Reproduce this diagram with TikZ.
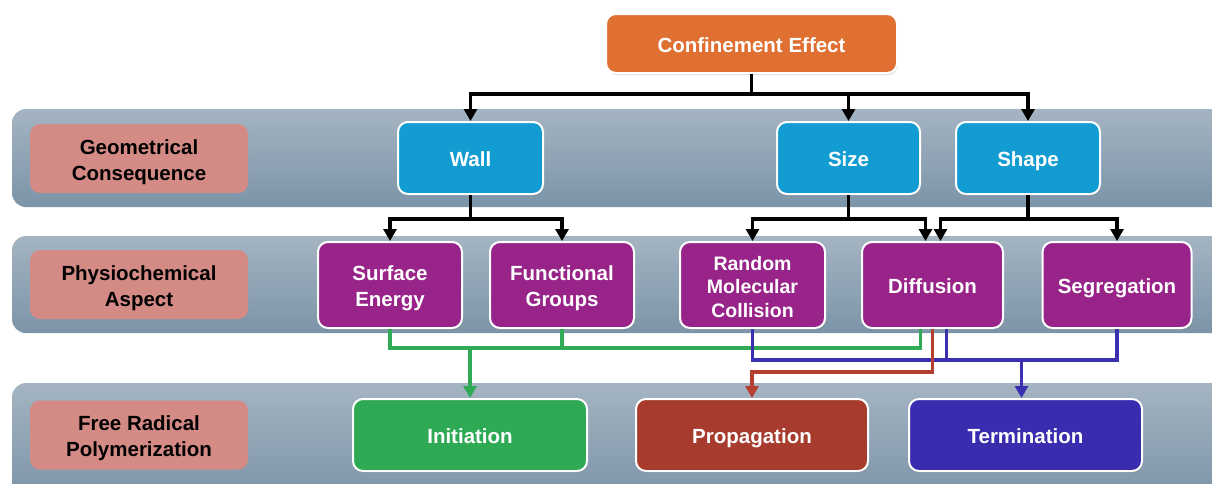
\documentclass[tikz,border=0pt]{standalone}
\usepackage{fontspec}
\setmainfont{Liberation Sans}
\usetikzlibrary{arrows.meta,shadows}
\definecolor{bandtop}{HTML}{A4B4C2}
\definecolor{bandbot}{HTML}{7C94A8}
\definecolor{cOrange}{HTML}{E06F32}
\definecolor{cBlue}{HTML}{129CD2}
\definecolor{cPurple}{HTML}{982489}
\definecolor{cGreen}{HTML}{2EAA55}
\definecolor{cRed}{HTML}{A73B2E}
\definecolor{cIndigo}{HTML}{3A2CAE}
\definecolor{cPink}{HTML}{D48A85}
\definecolor{lGreen}{HTML}{30AA55}
\definecolor{lRed}{HTML}{B33F2E}
\definecolor{lBlue}{HTML}{3A30B0}
\newcommand\bstrut{\rule[-5pt]{0pt}{27pt}}
\newcommand\ml{\rule[-5pt]{0pt}{27pt}}
\tikzset{
  band/.style={top color=bandtop, bottom color=bandbot, draw=none, rounded corners=14pt},
  boxtxt/.style={font=\fontsize{20.5}{26}\selectfont\bfseries, align=center,
    execute at begin node=\bstrut, execute at end node=\bstrut},
  labelbox/.style={boxtxt, fill=cPink, draw=none, rounded corners=10pt, text=black,
    minimum width=218pt, minimum height=69pt, inner sep=0pt},
  cbox/.style={boxtxt, draw=white, line width=2pt, rounded corners=10pt, text=white,
    inner sep=0pt, drop shadow={shadow xshift=1pt, shadow yshift=-2pt, opacity=0.25}},
  tip/.style={-{Triangle[length=12pt,width=13pt]}},
  blk/.style={draw=black, line width=3.5pt, tip},
  gline/.style={draw=lGreen, line width=3.5pt},
  rline/.style={draw=lRed, line width=3.5pt},
  bline/.style={draw=lBlue, line width=3.5pt},
}
\begin{document}
\begin{tikzpicture}[x=1pt,y=-1pt]
\useasboundingbox (0,0) rectangle (1212,483);
\clip (0,0) rectangle (1212,483);
% bands
\path[band] (12,109) rectangle (1240,207);
\path[band] (12,236) rectangle (1240,333);
\path[band] (12,383) rectangle (1240,500);
% label boxes
\node[labelbox] (l1) at (139,158.5) {\ml Geometrical\\Consequence};
\node[labelbox] (l2) at (139,284.5) {\ml Physiochemical\\Aspect};
\node[labelbox] (l3) at (139,435) {\ml Free Radical\\Polymerization};
% top
\node[cbox, fill=cOrange, minimum width=291pt, minimum height=59pt] (ce) at (751.5,43.5) {Confinement Effect};
% row 1
\node[cbox, fill=cBlue, minimum width=145pt, minimum height=72pt] (wall) at (470.5,158) {Wall};
\node[cbox, fill=cBlue, minimum width=143pt, minimum height=72pt] (size) at (848.5,158) {Size};
\node[cbox, fill=cBlue, minimum width=144pt, minimum height=72pt] (shape) at (1028,158) {Shape};
% row 2
\node[cbox, fill=cPurple, minimum width=144pt, minimum height=86pt] (se) at (390,285) {\ml Surface\\Energy};
\node[cbox, fill=cPurple, minimum width=144pt, minimum height=86pt] (fg) at (562,285) {\ml Functional\\Groups};
\node[cbox, fill=cPurple, minimum width=145pt, minimum height=86pt, font=\fontsize{19.5}{23.5}\selectfont\bfseries] (rmc) at (752.5,285) {\ml Random\\Molecular\\Collision};
\node[cbox, fill=cPurple, minimum width=141pt, minimum height=86pt] (diff) at (932.5,285) {Diffusion};
\node[cbox, fill=cPurple, minimum width=149pt, minimum height=86pt] (seg) at (1117,285) {Segregation};
% row 3
\node[cbox, fill=cGreen, minimum width=234pt, minimum height=72pt] (ini) at (470,435) {Initiation};
\node[cbox, fill=cRed, minimum width=232pt, minimum height=72pt] (prop) at (752,435) {Propagation};
\node[cbox, fill=cIndigo, minimum width=233pt, minimum height=72pt] (term) at (1025.5,435) {Termination};
% bus coordinates
\coordinate (b0) at (0,94);
\coordinate (b1) at (0,219);
\coordinate (gb) at (0,348);
\coordinate (bb) at (0,360);
\coordinate (rb) at (0,372);
% black connectors
\draw[blk] (ce.south) -- (ce.south |- b0) -| (wall.north);
\draw[blk] (ce.south |- b0) -| (size.north);
\draw[blk] (ce.south |- b0) -| (shape.north);
\draw[blk] (wall.south) -- (wall.south |- b1) -| (se.north);
\draw[blk] (wall.south |- b1) -| (fg.north);
\draw[blk] (size.south) -- (size.south |- b1) -| (rmc.north);
\draw[blk] (size.south |- b1) -| ([xshift=-7pt]diff.north);
\draw[blk] (shape.south) -- (shape.south |- b1) -| ([xshift=8pt]diff.north);
\draw[blk] (shape.south |- b1) -| (seg.north);
% green
\draw[gline] (se.south) -- (se.south |- gb) -- ([xshift=-12pt]diff.south |- gb) -- ([xshift=-12pt]diff.south);
\draw[gline] (fg.south) -- (fg.south |- gb);
\draw[gline, tip] (ini.north |- gb) -- (ini.north);
% blue
\draw[bline] (rmc.south) -- (rmc.south |- bb) -| (seg.south);
\draw[bline] ([xshift=14pt]diff.south) -- ([xshift=14pt]diff.south |- bb);
\draw[bline, tip] ([xshift=-4pt]term.north |- bb) -- ([xshift=-4pt]term.north);
% red
\draw[rline, tip] (diff.south) -- (diff.south |- rb) -| (prop.north);
\end{tikzpicture}
\end{document}
